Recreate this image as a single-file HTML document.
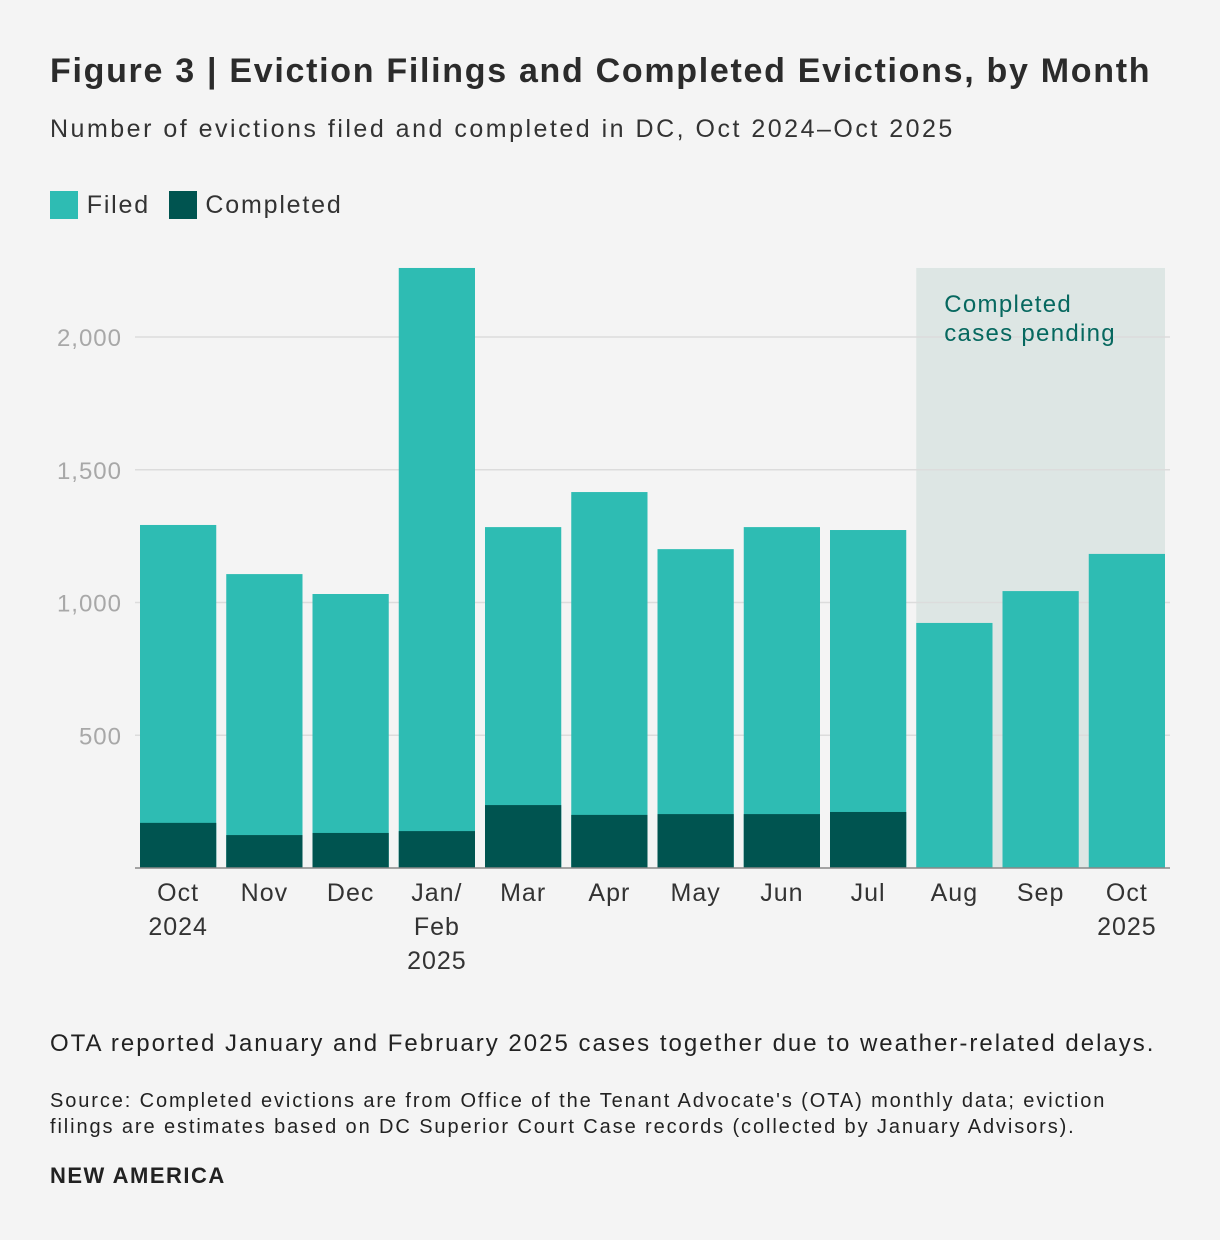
<!DOCTYPE html>
<html><head><meta charset="utf-8"><style>
body{margin:0;background:#f4f4f4;font-family:"Liberation Sans",sans-serif;color:#2b2b2b}
#wrap{position:relative;width:1220px;height:1240px;overflow:hidden}
.t{position:absolute;white-space:nowrap}
</style></head><body>
<div id="wrap">
<div class="t" style="left:50px;top:52px;font-size:34px;font-weight:bold;letter-spacing:1.7px">Figure 3 | Eviction Filings and Completed Evictions, by Month</div>
<div class="t" style="left:50px;top:115px;font-size:25px;letter-spacing:2.5px;color:#333">Number of evictions filed and completed in DC, Oct 2024–Oct 2025</div>
<div class="t" style="left:50px;top:191px;font-size:25px;letter-spacing:1.8px;color:#333">
<span><span style="display:inline-block;width:28px;height:28px;background:#2ebcb3;vertical-align:-6px"></span> Filed</span>
<span style="margin-left:10px"><span style="display:inline-block;width:28px;height:28px;background:#005450;vertical-align:-6px"></span> Completed</span>
</div>
<svg id="chart" width="1220" height="1000" style="position:absolute;left:0;top:0"></svg>
<div class="t" style="left:50px;top:1030px;font-size:24px;letter-spacing:2px;color:#222">OTA reported January and February 2025 cases together due to weather-related delays.</div>
<div class="t" style="left:50px;top:1088px;font-size:20px;line-height:26px;letter-spacing:1.9px;color:#222">Source: Completed evictions are from Office of the Tenant Advocate's (OTA) monthly data; eviction<br>filings are estimates based on DC Superior Court Case records (collected by January Advisors).</div>
<div class="t" style="left:50px;top:1163px;font-size:22px;font-weight:bold;letter-spacing:1.5px;color:#222">NEW AMERICA</div>
</div>
<script>
const categories=[["Oct","2024"],["Nov"],["Dec"],["Jan/","Feb","2025"],["Mar"],["Apr"],["May"],["Jun"],["Jul"],["Aug"],["Sep"],["Oct","2025"]];
const filed=[1292,1107,1032,2260,1284,1416,1201,1284,1273,923,1043,1183];
const completed=[170,124,132,139,237,200,203,203,211,null,null,null];
const yTicks=[500,1000,1500,2000];
const yTickLabels=["500","1,000","1,500","2,000"];
const pendingStart=9;
const NS="http://www.w3.org/2000/svg";
const svg=document.getElementById("chart");
const x0=135,x1=1170,y0=868,pxPer=(868-337)/2000;
const band=(x1-x0)/categories.length,pad=5;
const y=v=>y0-v*pxPer;
const bx=i=>x0+i*band+pad;
function mk(tag,attrs){const e=document.createElementNS(NS,tag);for(const k in attrs)e.setAttribute(k,attrs[k]);svg.appendChild(e);return e;}
let sh=mk("rect",{x:bx(pendingStart),y:y(2260),width:bx(categories.length-1)+band-2*pad-bx(pendingStart),height:y0-y(2260),fill:"#dde6e4"});


yTicks.forEach((v,i)=>{
 let g=mk("line",{x1:x0,x2:x1,y1:y(v),y2:y(v),stroke:"#dcdcdc","stroke-width":1.5});
 
 
 let t=mk("text",{x:122,y:y(v)+9,"font-size":24,"letter-spacing":1,fill:"#a8a8a8","text-anchor":"end"});
 t.textContent=yTickLabels[i];
 
 
});
let ptx=bx(pendingStart)+28;
let pt=mk("text",{x:ptx,y:y(2260)+44,"font-size":24,"letter-spacing":1.3,fill:"#06685f"});
pt.innerHTML='<tspan x="'+ptx+'">Completed</tspan><tspan x="'+ptx+'" dy="29">cases pending</tspan>';


categories.forEach((c,i)=>{
 const w=band-2*pad;
 let r=mk("rect",{x:bx(i),y:y(filed[i]),width:w,height:y0-y(filed[i]),fill:"#2ebcb3"});
 
 
 if(completed[i]!=null){
  let r2=mk("rect",{x:bx(i),y:y(completed[i]),width:w,height:y0-y(completed[i]),fill:"#005450"});
  
  
 }
 let t=mk("text",{"font-size":25,"letter-spacing":1,fill:"#333","text-anchor":"middle"});
 c.forEach((s,j)=>{const ts=document.createElementNS(NS,"tspan");ts.setAttribute("x",bx(i)+w/2);ts.setAttribute("y",901+j*34);ts.textContent=s;t.appendChild(ts);});
 
 
});
let ax=mk("line",{x1:x0,x2:x1,y1:y0,y2:y0,stroke:"#888","stroke-width":1.5});


</script>
</body></html>
